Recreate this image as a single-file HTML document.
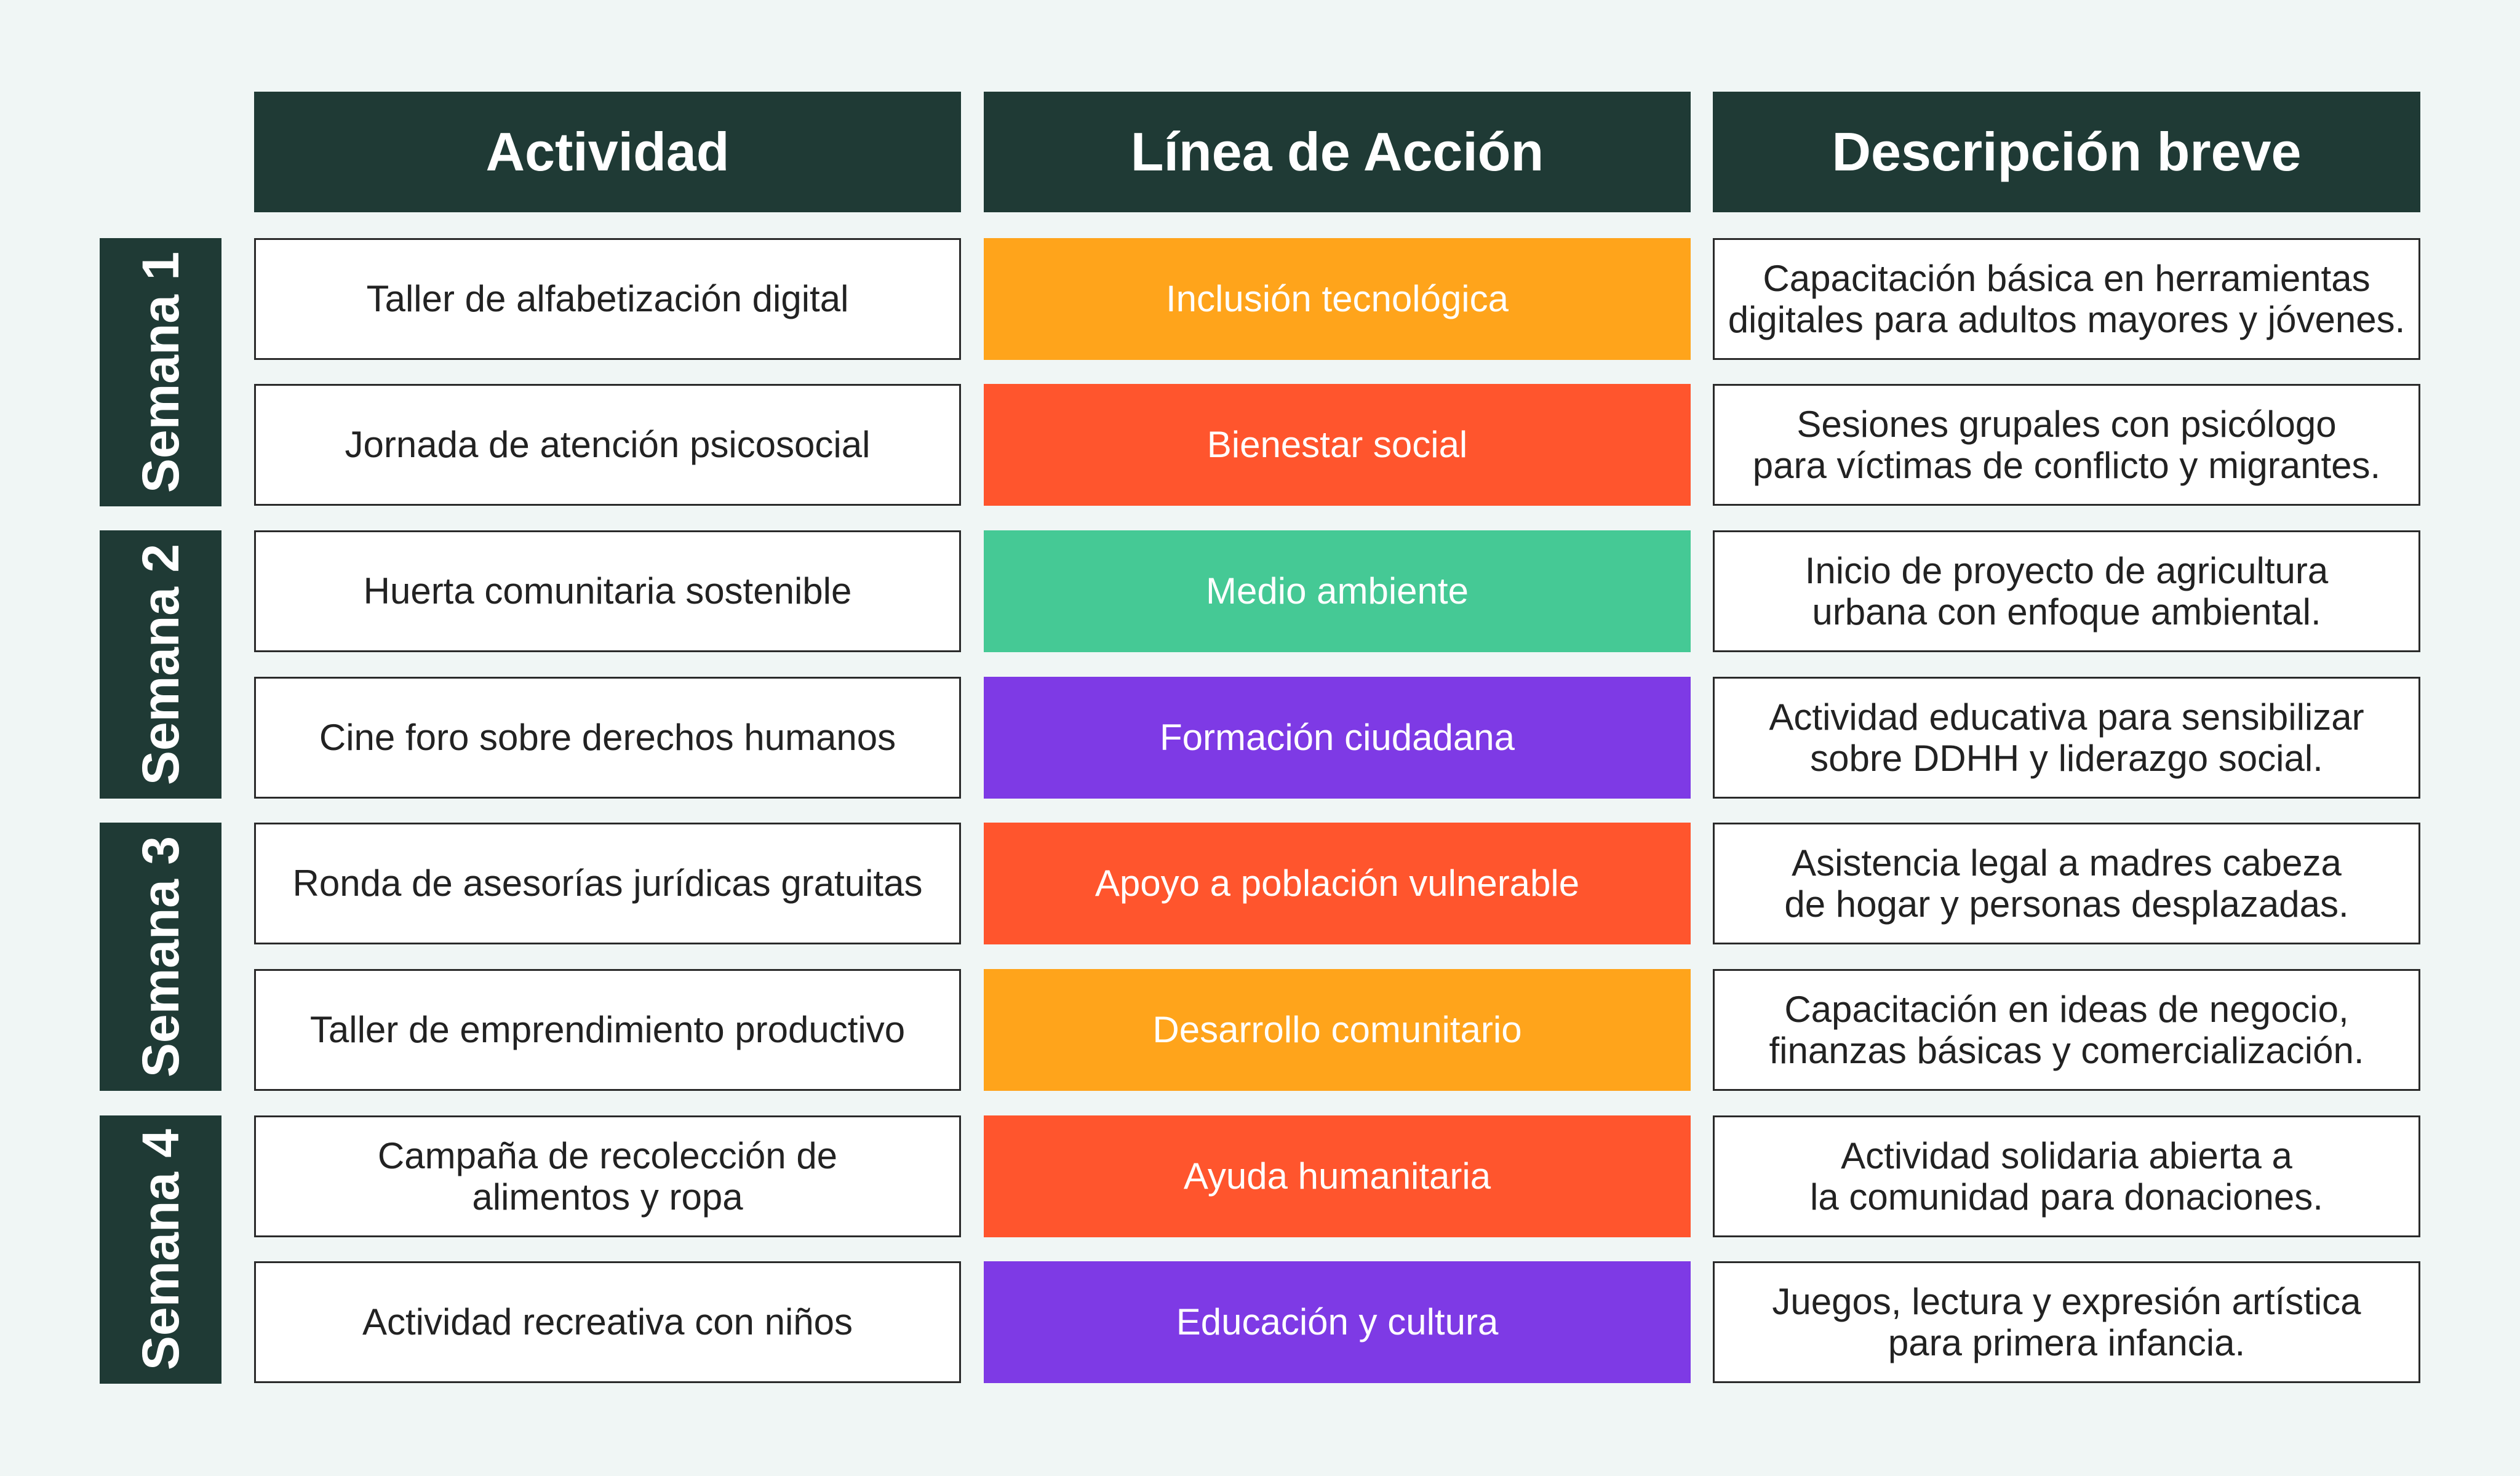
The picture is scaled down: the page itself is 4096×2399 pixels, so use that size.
<!DOCTYPE html>
<html><head><meta charset="utf-8"><style>
html,body{margin:0;padding:0}
body{width:4096px;height:2399px;background:#f0f6f5;position:relative;overflow:hidden;font-family:"Liberation Sans",sans-serif}
.b{position:absolute;box-sizing:border-box;display:flex;align-items:center;justify-content:center;text-align:center;line-height:1.12}
.h{background:#1f3a35;color:#fff;font-weight:bold;font-size:88px;top:149px;height:196px}
.w{background:#fff;border:3px solid #2a2a2a;color:#222;font-size:60px;height:198px}
.c{color:#fff;font-size:60px;height:198px}
.s{background:#1f3a35;left:162px;width:198px;height:436px}
.s span{transform:rotate(-90deg);color:#fff;font-weight:bold;font-size:84px;white-space:nowrap}
.c1{left:413px;width:1149px}.c2{left:1599px;width:1149px}.c3{left:2784px;width:1150px}
</style></head><body>
<div class="b h c1">Actividad</div>
<div class="b h c2">Línea de Acción</div>
<div class="b h c3">Descripción breve</div>

<div class="b s" style="top:387px"><span>Semana 1</span></div>
<div class="b s" style="top:862px"><span>Semana 2</span></div>
<div class="b s" style="top:1337px"><span>Semana 3</span></div>
<div class="b s" style="top:1813px"><span>Semana 4</span></div>

<div class="b w c1" style="top:387px">Taller de alfabetización digital</div>
<div class="b c c2" style="top:387px;background:#ffa41b">Inclusión tecnológica</div>
<div class="b w c3" style="top:387px">Capacitación básica en herramientas<br>digitales para adultos mayores y jóvenes.</div>

<div class="b w c1" style="top:624px">Jornada de atención psicosocial</div>
<div class="b c c2" style="top:624px;background:#ff552d">Bienestar social</div>
<div class="b w c3" style="top:624px">Sesiones grupales con psicólogo<br>para víctimas de conflicto y migrantes.</div>

<div class="b w c1" style="top:862px">Huerta comunitaria sostenible</div>
<div class="b c c2" style="top:862px;background:#45c995">Medio ambiente</div>
<div class="b w c3" style="top:862px">Inicio de proyecto de agricultura<br>urbana con enfoque ambiental.</div>

<div class="b w c1" style="top:1100px">Cine foro sobre derechos humanos</div>
<div class="b c c2" style="top:1100px;background:#7e3ae5">Formación ciudadana</div>
<div class="b w c3" style="top:1100px">Actividad educativa para sensibilizar<br>sobre DDHH y liderazgo social.</div>

<div class="b w c1" style="top:1337px">Ronda de asesorías jurídicas gratuitas</div>
<div class="b c c2" style="top:1337px;background:#ff552d">Apoyo a población vulnerable</div>
<div class="b w c3" style="top:1337px">Asistencia legal a madres cabeza<br>de hogar y personas desplazadas.</div>

<div class="b w c1" style="top:1575px">Taller de emprendimiento productivo</div>
<div class="b c c2" style="top:1575px;background:#ffa41b">Desarrollo comunitario</div>
<div class="b w c3" style="top:1575px">Capacitación en ideas de negocio,<br>finanzas básicas y comercialización.</div>

<div class="b w c1" style="top:1813px">Campaña de recolección de<br>alimentos y ropa</div>
<div class="b c c2" style="top:1813px;background:#ff552d">Ayuda humanitaria</div>
<div class="b w c3" style="top:1813px">Actividad solidaria abierta a<br>la comunidad para donaciones.</div>

<div class="b w c1" style="top:2050px">Actividad recreativa con niños</div>
<div class="b c c2" style="top:2050px;background:#7e3ae5">Educación y cultura</div>
<div class="b w c3" style="top:2050px">Juegos, lectura y expresión artística<br>para primera infancia.</div>
</body></html>
